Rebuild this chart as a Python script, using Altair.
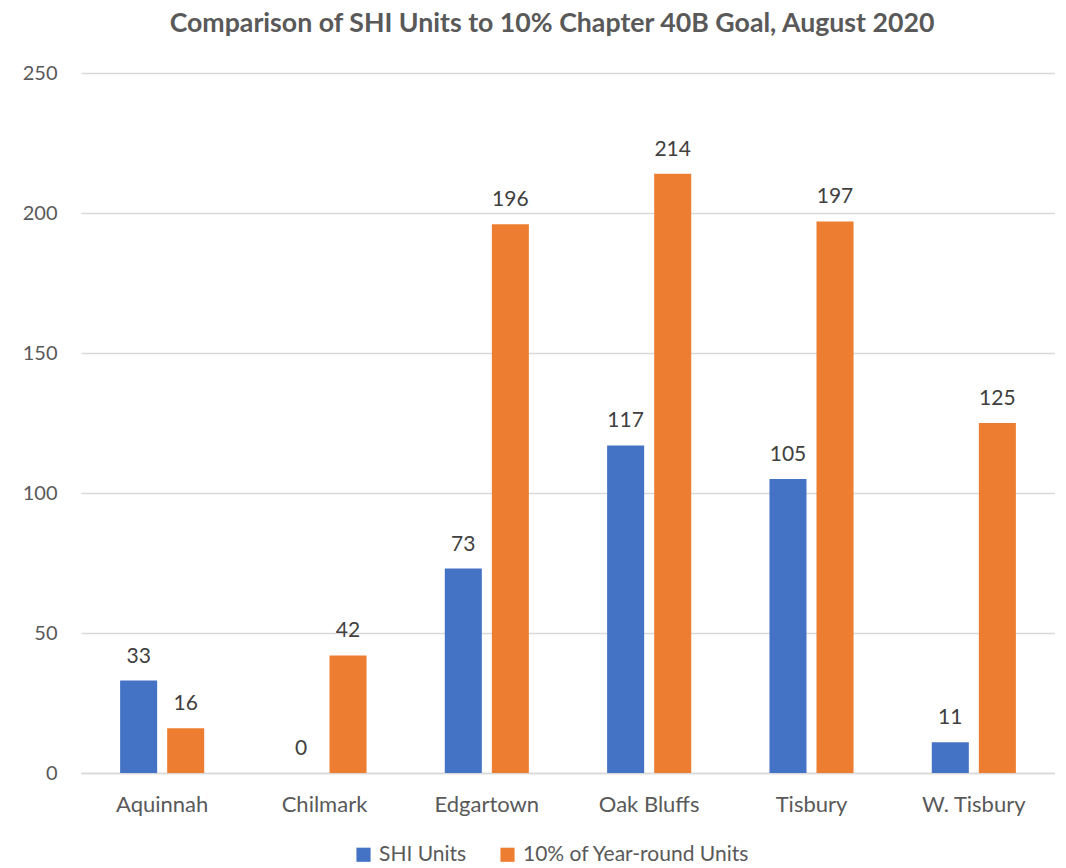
import altair as alt
import pandas as pd

towns = ["Aquinnah", "Chilmark", "Edgartown", "Oak Bluffs", "Tisbury", "W. Tisbury"]
shi_units = [33, 0, 73, 117, 105, 11]
goal_units = [16, 42, 196, 214, 197, 125]
series = ["SHI Units", "10% of Year-round Units"]
colors = ["#4472C4", "#ED7D31"]

rows = []
for t, a, b in zip(towns, shi_units, goal_units):
    rows.append({"town": t, "series": series[0], "value": a})
    rows.append({"town": t, "series": series[1], "value": b})
df = pd.DataFrame(rows)

FONT = "Lato"
GRAY = "#595959"

x = alt.X("town:N", sort=towns, title=None,
          scale=alt.Scale(paddingInner=0.482, paddingOuter=0.241),
          axis=alt.Axis(labelAngle=0, labelFontSize=22, labelColor=GRAY, labelFont=FONT,
                        ticks=False, domainColor="#D9D9D9", domainWidth=1.5, labelPadding=21))
xo = alt.XOffset("series:N", sort=series,
                 scale=alt.Scale(paddingInner=0.213, paddingOuter=0))
y = alt.Y("value:Q", title=None,
          scale=alt.Scale(domain=[0, 250], nice=False),
          axis=alt.Axis(values=[0, 50, 100, 150, 200, 250], labelFontSize=20, labelColor=GRAY,
                        labelFont=FONT, ticks=False, domain=False, gridColor="#D9D9D9",
                        gridWidth=1.3, labelPadding=24))

bars = alt.Chart(df).mark_bar().encode(
    x=x, xOffset=xo, y=y,
    color=alt.Color("series:N", sort=series,
                    scale=alt.Scale(domain=series, range=colors),
                    legend=alt.Legend(title=None, orient="none", direction="horizontal",
                                      legendX=272, legendY=771, symbolType="square",
                                      symbolSize=200, symbolStrokeWidth=0,
                                      labelFontSize=21, labelColor=GRAY, labelFont=FONT,
                                      labelLimit=400, labelOffset=5, columnPadding=30,
                                      symbolOpacity=1)),
)

labels = alt.Chart(df).mark_text(baseline="bottom", dy=-14, fontSize=21, color="#404040",
                                 font=FONT).encode(
    x=alt.X("town:N", sort=towns), xOffset=alt.XOffset("series:N", sort=series),
    y="value:Q", text="value:Q",
)

chart = alt.layer(bars, labels).properties(
    width=974, height=700,
    title=alt.Title("Comparison of SHI Units to 10% Chapter 40B Goal, August 2020",
                    fontSize=26.7, font=FONT, fontWeight="bold", color=GRAY,
                    anchor="middle", offset=25, dx=-16),
    padding={"left": 14, "top": 3, "right": 0, "bottom": 0},
).configure_view(stroke=None)

chart.save("out.html", embed_options={"renderer": "svg", "actions": False})
